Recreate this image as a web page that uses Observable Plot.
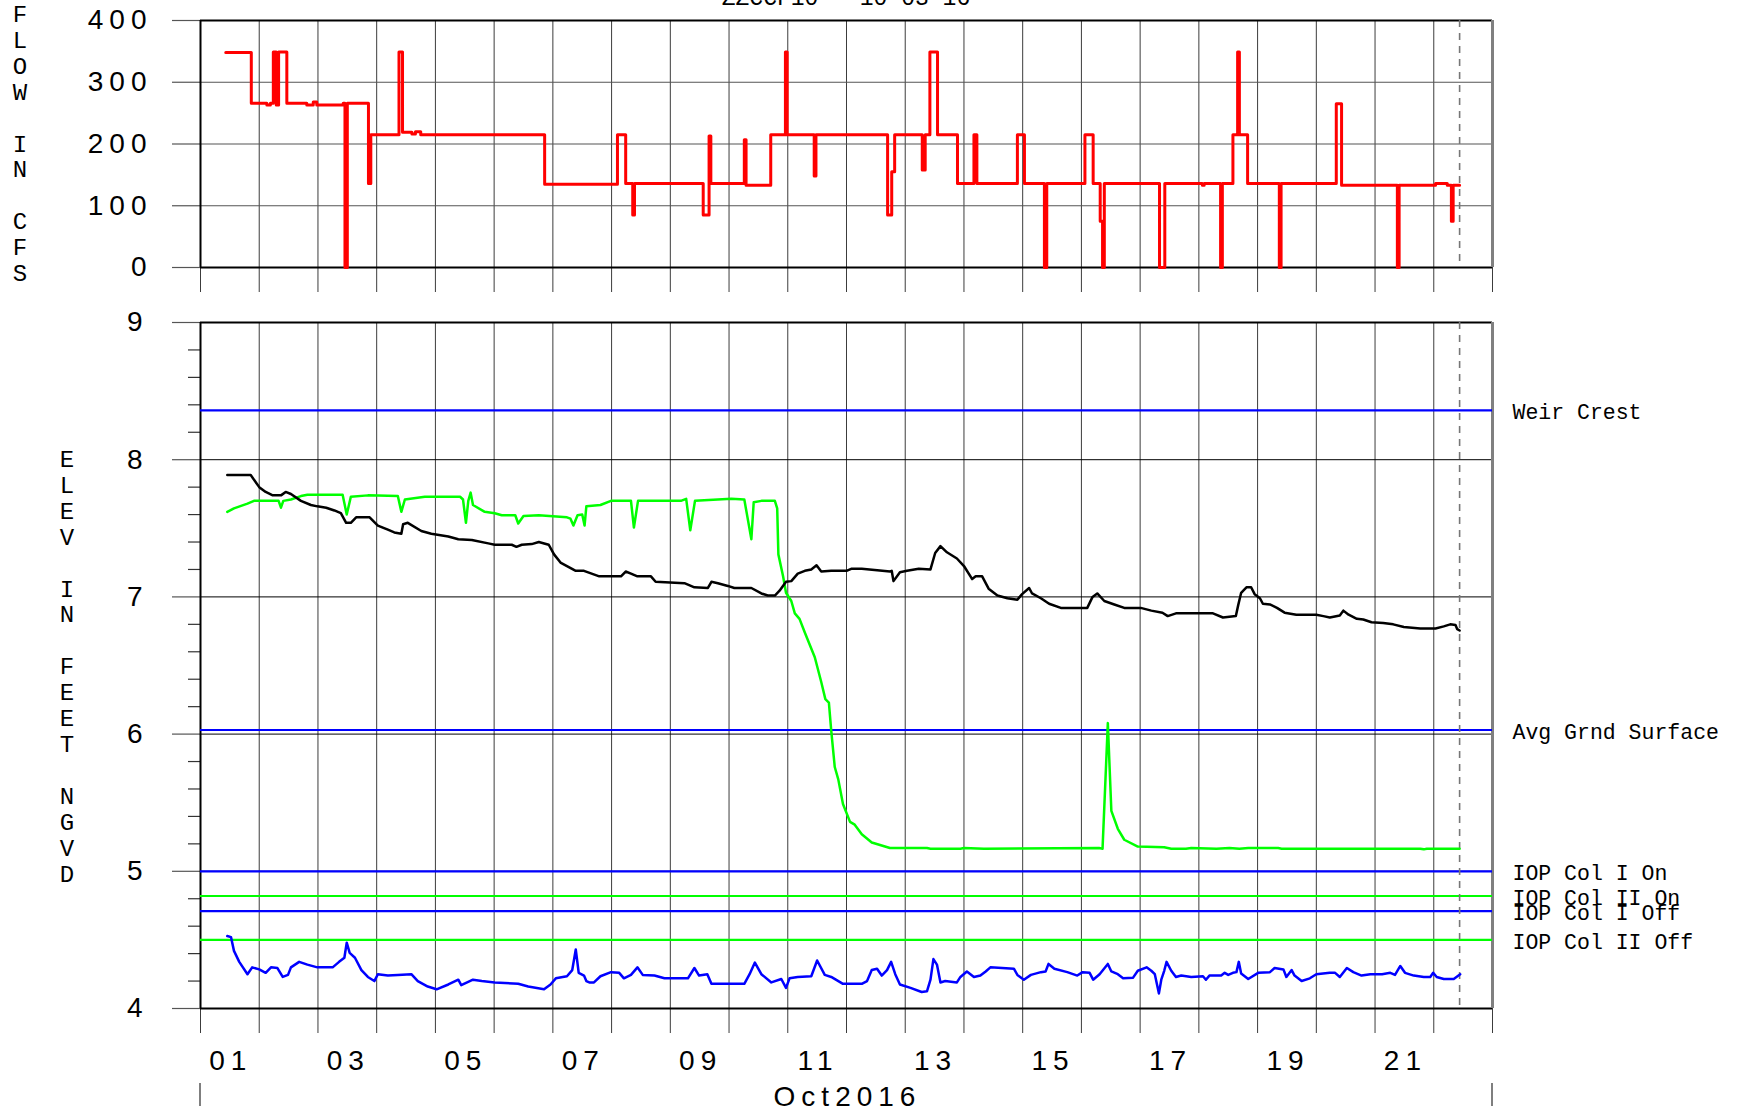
<!DOCTYPE html>
<html>
<head>
<meta charset="utf-8">
<script src="https://cdn.jsdelivr.net/npm/d3@7"></script>
<script src="https://cdn.jsdelivr.net/npm/@observablehq/plot@0.6"></script>
<style>
  html, body { margin: 0; padding: 0; background: #fff; overflow: hidden; }
  #wrap { position: relative; width: 1743px; height: 1112px; }
  #top { position: absolute; left: 0; top: 0; }
  #bot { position: absolute; left: 0; top: 300px; }
  .vt { position: absolute; font-family: "Liberation Mono", "DejaVu Sans Mono", monospace; font-size: 24px;
        line-height: 25.9px; text-align: center; width: 30px; color: #000; white-space: pre; }
  g[aria-label="y-axis tick label"] text,
  g[aria-label="x-axis tick label"] text { letter-spacing: 6px; }
</style>
</head>
<body>
<div id="wrap">
  <div id="top"></div>
  <div id="bot"></div>
  <div class="vt" id="ytTop" style="left:5px; top:3px;"></div>
  <div class="vt" id="ytBot" style="left:52px; top:448px;"></div>
</div>
<script>
// ---------------- DATA ----------------
const chartTitle = "ZZCCF10 - 10-03-16";
const flowTitle = "FLOW IN CFS";
const elevTitle = "ELEV IN FEET NGVD";
const monthLabel = "Oct2016";
const dayTicks = d3.range(0, 23);               // midnight of Oct 1 .. Oct 23 (days since Oct 1)
const dayLabelPos = [0.5, 2.5, 4.5, 6.5, 8.5, 10.5, 12.5, 14.5, 16.5, 18.5, 20.5];
const dayLabels = ["01", "03", "05", "07", "09", "11", "13", "15", "17", "19", "21"];
const flowTicks = [0, 100, 200, 300, 400];
const elevTicks = [4, 5, 6, 7, 8, 9];
const elevMinor = [4.2, 4.4, 4.6, 4.8, 5.2, 5.4, 5.6, 5.8, 6.2, 6.4, 6.6, 6.8, 7.2, 7.4, 7.6, 7.8, 8.2, 8.4, 8.6, 8.8];
const cutoffDay = 21.44;

const refLabels = ["Weir Crest", "Avg Grnd Surface", "IOP Col I On", "IOP Col II On", "IOP Col I Off", "IOP Col II Off"];
const refValues = [8.36, 6.03, 5.0, 4.82, 4.71, 4.5];

// flow (cfs), step series: [day, value held until next day]
const flowSteps = [
  [0.43, 348], [0.865, 266], [1.13, 263], [1.19, 266], [1.24, 349], [1.29, 263], [1.33, 349], [1.47, 266],
  [1.81, 263], [1.92, 268], [1.98, 263], [2.43, 266], [2.46, 0], [2.50, 266], [2.86, 136], [2.90, 215],
  [3.38, 349], [3.44, 219], [3.60, 216], [3.66, 220], [3.75, 215], [5.86, 135],
  [7.10, 215], [7.24, 136], [7.36, 85], [7.39, 136], [8.56, 85], [8.66, 213], [8.69, 136],
  [9.26, 207], [9.29, 133], [9.71, 215], [9.96, 349], [9.99, 215], [10.45, 148], [10.48, 215],
  [11.70, 85], [11.77, 155], [11.82, 215], [12.29, 158], [12.34, 215], [12.42, 349], [12.55, 215],
  [12.89, 136], [13.17, 215], [13.22, 136], [13.91, 215], [14.03, 136], [14.37, 0], [14.41, 136],
  [15.06, 215], [15.20, 136], [15.32, 75], [15.36, 0], [15.39, 136], [16.33, 0], [16.42, 136],
  [17.06, 133], [17.09, 136], [17.37, 0], [17.40, 136], [17.58, 215], [17.66, 349], [17.69, 215],
  [17.83, 136], [18.37, 0], [18.40, 136], [19.34, 265], [19.43, 133], [20.38, 0], [20.41, 133],
  [21.03, 136], [21.23, 133], [21.30, 75], [21.33, 133], [21.44, 133]
];

// black stage series [day, ft]
const blackSeries = [
  [0.456,7.888],[0.855,7.888],[1.0,7.80],[1.11,7.765],[1.23,7.74],[1.37,7.74],[1.45,7.765],[1.54,7.75],
  [1.71,7.70],[1.88,7.67],[1.99,7.66],[2.14,7.65],[2.28,7.63],[2.39,7.61],[2.48,7.54],[2.56,7.54],
  [2.65,7.58],[2.88,7.58],[3.02,7.52],[3.19,7.49],[3.30,7.47],[3.42,7.46],[3.45,7.53],[3.53,7.54],
  [3.76,7.48],[3.93,7.46],[4.22,7.44],[4.39,7.42],[4.62,7.415],[4.90,7.39],[5.01,7.38],[5.30,7.38],
  [5.38,7.365],[5.47,7.38],[5.64,7.385],[5.76,7.40],[5.93,7.38],[6.02,7.31],[6.13,7.25],[6.24,7.225],
  [6.39,7.19],[6.53,7.19],[6.79,7.15],[7.16,7.15],[7.24,7.185],[7.33,7.17],[7.44,7.15],[7.67,7.15],
  [7.75,7.11],[8.24,7.10],[8.41,7.07],[8.64,7.065],[8.70,7.11],[8.81,7.10],[8.98,7.08],[9.09,7.065],
  [9.38,7.065],[9.55,7.025],[9.66,7.01],[9.78,7.01],[9.86,7.045],[9.97,7.11],[10.06,7.115],[10.17,7.17],
  [10.29,7.19],[10.40,7.20],[10.49,7.23],[10.57,7.185],[10.74,7.19],[11.0,7.19],[11.08,7.205],[11.26,7.205],
  [11.74,7.185],[11.77,7.19],[11.80,7.115],[11.91,7.18],[12.03,7.19],[12.23,7.205],[12.43,7.20],[12.51,7.32],
  [12.60,7.37],[12.71,7.325],[12.88,7.28],[13.0,7.225],[13.14,7.13],[13.20,7.15],[13.31,7.15],[13.42,7.06],
  [13.57,7.01],[13.74,6.99],[13.91,6.98],[13.99,7.02],[14.11,7.065],[14.16,7.025],[14.31,6.99],[14.45,6.95],
  [14.65,6.92],[15.10,6.92],[15.19,7.00],[15.27,7.025],[15.39,6.97],[15.56,6.945],[15.73,6.92],[16.01,6.92],
  [16.19,6.90],[16.38,6.885],[16.47,6.86],[16.61,6.88],[17.24,6.88],[17.41,6.85],[17.63,6.86],[17.67,6.94],
  [17.72,7.03],[17.81,7.07],[17.89,7.07],[17.95,7.02],[18.04,6.99],[18.09,6.95],[18.21,6.945],[18.33,6.92],
  [18.46,6.885],[18.66,6.87],[19.00,6.87],[19.12,6.86],[19.23,6.85],[19.40,6.865],[19.46,6.90],[19.55,6.87],
  [19.69,6.84],[19.80,6.835],[19.94,6.815],[20.14,6.81],[20.31,6.80],[20.49,6.78],[20.77,6.77],[21.03,6.77],
  [21.17,6.785],[21.28,6.80],[21.37,6.795],[21.40,6.765],[21.44,6.755]
];

// green stage series [day, ft]
const greenSeries = [
  [0.456,7.62],[0.57,7.645],[0.80,7.68],[0.91,7.70],[1.33,7.70],[1.37,7.65],[1.41,7.70],[1.54,7.71],
  [1.71,7.735],[1.82,7.745],[2.42,7.745],[2.49,7.60],[2.56,7.73],[2.85,7.74],[3.36,7.735],[3.42,7.62],
  [3.48,7.71],[3.82,7.73],[4.42,7.73],[4.47,7.71],[4.52,7.54],[4.56,7.70],[4.60,7.76],[4.64,7.67],
  [4.84,7.62],[5.01,7.61],[5.13,7.595],[5.36,7.595],[5.41,7.535],[5.50,7.59],[5.76,7.595],[6.24,7.58],
  [6.30,7.57],[6.35,7.52],[6.42,7.595],[6.50,7.60],[6.54,7.52],[6.57,7.66],[6.81,7.67],[6.99,7.70],
  [7.33,7.70],[7.38,7.505],[7.45,7.70],[8.18,7.70],[8.27,7.715],[8.34,7.485],[8.42,7.70],[9.04,7.715],
  [9.26,7.71],[9.38,7.42],[9.42,7.69],[9.55,7.70],[9.78,7.70],[9.82,7.645],[9.84,7.31],[9.92,7.15],
  [9.97,7.03],[10.06,6.97],[10.12,6.88],[10.20,6.84],[10.29,6.74],[10.46,6.56],[10.57,6.38],[10.64,6.255],
  [10.70,6.23],[10.74,6.025],[10.80,5.76],[10.86,5.67],[10.94,5.49],[11.06,5.36],[11.14,5.34],[11.26,5.27],
  [11.43,5.21],[11.74,5.17],[12.37,5.17],[12.43,5.165],[12.94,5.165],[13.0,5.17],[13.34,5.165],[15.30,5.17],
  [15.36,5.165],[15.45,6.08],[15.51,5.44],[15.62,5.31],[15.73,5.23],[15.96,5.18],[16.41,5.175],[16.53,5.165],
  [16.78,5.165],[16.87,5.17],[17.30,5.165],[17.52,5.17],[17.69,5.165],[17.84,5.17],[18.35,5.17],[18.41,5.165],
  [20.77,5.165],[20.83,5.16],[20.88,5.165],[21.44,5.165]
];

// blue stage series [day, ft]
const blueSeries = [
  [0.456,4.528],[0.52,4.52],[0.57,4.42],[0.66,4.34],[0.80,4.25],[0.88,4.30],[1.00,4.285],[1.11,4.26],
  [1.20,4.30],[1.31,4.295],[1.40,4.23],[1.49,4.245],[1.54,4.30],[1.68,4.34],[1.82,4.32],[1.99,4.30],
  [2.25,4.30],[2.36,4.34],[2.45,4.37],[2.49,4.48],[2.54,4.405],[2.63,4.37],[2.74,4.28],[2.85,4.23],
  [2.96,4.20],[3.02,4.25],[3.19,4.24],[3.36,4.245],[3.59,4.25],[3.70,4.20],[3.87,4.16],[4.02,4.14],
  [4.22,4.175],[4.39,4.21],[4.44,4.17],[4.64,4.21],[4.79,4.20],[5.01,4.19],[5.41,4.18],[5.58,4.16],
  [5.85,4.14],[5.96,4.175],[6.05,4.22],[6.24,4.235],[6.33,4.28],[6.39,4.43],[6.44,4.26],[6.53,4.24],
  [6.57,4.20],[6.62,4.19],[6.70,4.19],[6.81,4.235],[6.99,4.265],[7.13,4.26],[7.21,4.22],[7.33,4.245],
  [7.44,4.30],[7.53,4.245],[7.73,4.24],[7.90,4.22],[8.30,4.22],[8.41,4.295],[8.49,4.24],[8.63,4.25],
  [8.70,4.18],[9.26,4.18],[9.35,4.25],[9.44,4.335],[9.55,4.25],[9.72,4.19],[9.89,4.215],[9.97,4.15],
  [10.03,4.22],[10.17,4.23],[10.40,4.235],[10.50,4.35],[10.63,4.245],[10.74,4.23],[10.94,4.18],[11.26,4.18],
  [11.35,4.20],[11.43,4.28],[11.52,4.29],[11.60,4.24],[11.69,4.28],[11.76,4.34],[11.83,4.25],[11.91,4.175],
  [12.09,4.15],[12.28,4.12],[12.37,4.125],[12.43,4.21],[12.48,4.36],[12.54,4.32],[12.60,4.19],[12.68,4.20],
  [12.88,4.19],[12.94,4.23],[13.05,4.27],[13.17,4.23],[13.28,4.24],[13.37,4.27],[13.45,4.30],[13.85,4.29],
  [13.91,4.245],[14.02,4.21],[14.14,4.245],[14.31,4.265],[14.39,4.27],[14.44,4.325],[14.54,4.29],[14.76,4.265],
  [14.93,4.24],[15.02,4.265],[15.14,4.26],[15.20,4.21],[15.31,4.25],[15.45,4.325],[15.51,4.27],[15.62,4.25],
  [15.71,4.22],[15.88,4.225],[15.96,4.275],[16.11,4.30],[16.19,4.275],[16.25,4.25],[16.32,4.11],[16.36,4.21],
  [16.41,4.275],[16.45,4.34],[16.53,4.275],[16.61,4.23],[16.70,4.24],[16.87,4.23],[17.07,4.235],[17.12,4.21],
  [17.18,4.24],[17.38,4.24],[17.44,4.26],[17.50,4.245],[17.58,4.26],[17.64,4.265],[17.68,4.34],[17.72,4.255],
  [17.84,4.215],[18.01,4.26],[18.21,4.265],[18.29,4.295],[18.44,4.285],[18.49,4.23],[18.58,4.28],[18.63,4.24],
  [18.75,4.20],[18.89,4.22],[19.00,4.25],[19.23,4.26],[19.32,4.26],[19.40,4.23],[19.52,4.295],[19.63,4.265],
  [19.77,4.24],[19.92,4.25],[20.12,4.25],[20.26,4.26],[20.34,4.245],[20.43,4.31],[20.51,4.26],[20.66,4.24],
  [20.83,4.23],[20.94,4.23],[20.99,4.26],[21.05,4.23],[21.17,4.215],[21.34,4.215],[21.45,4.25]
];

// ---------------- STYLE ----------------
const W = 1743;
const ML = 200, MR = 251;
const tickFont = '"Liberation Sans", Arial, sans-serif';
const monoFont = '"Liberation Mono", "Courier New", monospace';
const GRID = "#3c3c3c";
const BLUE = "#0000ff", GREEN = "#00ff00", RED = "#ff0000";

const toObj = a => a.map(([t, v]) => ({t, v}));
const refs = refLabels.map((label, i) => ({label, v: refValues[i]}));
const isColII = d => /Col II/.test(d.label);

// ---------------- TOP PANEL ----------------
const topSvg = Plot.plot({
  width: W, height: 300,
  marginTop: 20, marginBottom: 33, marginLeft: ML, marginRight: MR,
  x: {domain: [0, 22], label: null},
  y: {domain: [0, 400], label: null},
  style: {background: "transparent", overflow: "visible"},
  marks: [
    Plot.gridX(dayTicks, {stroke: GRID, strokeOpacity: 1, strokeWidth: 1}),
    Plot.gridY([100, 200, 300], {stroke: "#555", strokeOpacity: 1, strokeWidth: 1.2}),
    Plot.axisX({ticks: dayTicks, tickSize: 25, tickFormat: () => "", stroke: GRID, strokeWidth: 1, label: null}),
    Plot.axisY({ticks: flowTicks, tickSize: 28, tickPadding: 20, stroke: "#555", strokeWidth: 1.2,
      tickFormat: d => String(d), fontSize: 28, fontFamily: tickFont, fill: "#000", label: null}),
    Plot.ruleY([400], {stroke: "#000", strokeWidth: 2}),
    Plot.ruleY([0], {stroke: "#000", strokeWidth: 2}),
    Plot.ruleX([0], {stroke: "#000", strokeWidth: 2}),
    Plot.ruleX([22], {stroke: "#808080", strokeWidth: 3}),
    Plot.ruleX([cutoffDay], {stroke: "#777", strokeWidth: 1.6, strokeDasharray: "7,6"}),
    Plot.line(toObj(flowSteps), {x: "t", y: "v", curve: "step-after", stroke: RED, strokeWidth: 3})
  ]
});
document.getElementById("top").appendChild(topSvg);

// ---------------- BOTTOM PANEL ----------------
const botSvg = Plot.plot({
  width: W, height: 812,
  marginTop: 22, marginBottom: 104, marginLeft: ML, marginRight: MR,
  x: {domain: [0, 22], label: null},
  y: {domain: [4, 9], label: null},
  style: {background: "transparent", overflow: "visible"},
  marks: [
    Plot.gridX(dayTicks, {stroke: GRID, strokeOpacity: 1, strokeWidth: 1}),
    Plot.gridY([5, 6, 7, 8], {stroke: "#000", strokeOpacity: 1, strokeWidth: 1}),
    Plot.axisX({ticks: dayTicks, tickSize: 25, tickFormat: () => "", stroke: GRID, strokeWidth: 1, label: null}),
    Plot.axisX({ticks: dayLabelPos, tickSize: 0, tickPadding: 42, dx: 1, label: null,
      tickFormat: d => dayLabels[dayLabelPos.indexOf(d)], fontSize: 28, fontFamily: tickFont, fill: "#000"}),
    Plot.axisX({ticks: [11], tickSize: 0, tickPadding: 78, dx: 1, label: null,
      tickFormat: () => monthLabel, fontSize: 28, fontFamily: tickFont, fill: "#000"}),
    Plot.axisY({ticks: elevTicks, tickSize: 28, tickPadding: 24, stroke: "#555", strokeWidth: 1.2, label: null,
      tickFormat: d => String(d), fontSize: 28, fontFamily: tickFont, fill: "#000"}),
    Plot.axisY({ticks: elevMinor, tickSize: 12, tickFormat: () => "", stroke: "#333", strokeWidth: 1.2, label: null}),
    Plot.ruleY([9], {stroke: "#000", strokeWidth: 2}),
    Plot.ruleY([4], {stroke: "#000", strokeWidth: 2}),
    Plot.ruleX([0], {stroke: "#000", strokeWidth: 2}),
    Plot.ruleX([22], {stroke: "#808080", strokeWidth: 3}),
    Plot.ruleY(refs.filter(d => !isColII(d)), {y: "v", stroke: BLUE, strokeWidth: 2.2}),
    Plot.ruleY(refs.filter(isColII), {y: "v", stroke: GREEN, strokeWidth: 2.2}),
    Plot.text(refs, {y: "v", text: "label", frameAnchor: "right", dx: 20, dy: 2, textAnchor: "start",
      lineAnchor: "middle", fontFamily: monoFont, fontSize: 21.5, fill: "#000"}),
    Plot.ruleX([cutoffDay], {stroke: "#777", strokeWidth: 1.6, strokeDasharray: "7,6"}),
    Plot.line(toObj(greenSeries), {x: "t", y: "v", stroke: GREEN, strokeWidth: 2.5}),
    Plot.line(toObj(blackSeries), {x: "t", y: "v", stroke: "#000", strokeWidth: 2.5}),
    Plot.line(toObj(blueSeries), {x: "t", y: "v", stroke: BLUE, strokeWidth: 2.5})
  ]
});
document.getElementById("bot").appendChild(botSvg);

// month separator ticks below the month label row and the title
const xs = botSvg.scale("x");
const gm = d3.select(botSvg).append("g");
[0, 22].forEach(d => {
  gm.append("line").attr("x1", xs.apply(d)).attr("x2", xs.apply(d))
    .attr("y1", 783).attr("y2", 806).attr("stroke", "#555").attr("stroke-width", 1.5);
});
d3.select(topSvg).append("text")
  .attr("x", topSvg.scale("x").apply(11)).attr("y", 4.5)
  .attr("text-anchor", "middle").attr("font-family", monoFont).attr("font-size", 23)
  .attr("fill", "#000").text(chartTitle);

// stacked axis titles
document.getElementById("ytTop").textContent = flowTitle.split("").join("\n");
document.getElementById("ytBot").textContent = elevTitle.split("").join("\n");
</script>
</body>
</html>
